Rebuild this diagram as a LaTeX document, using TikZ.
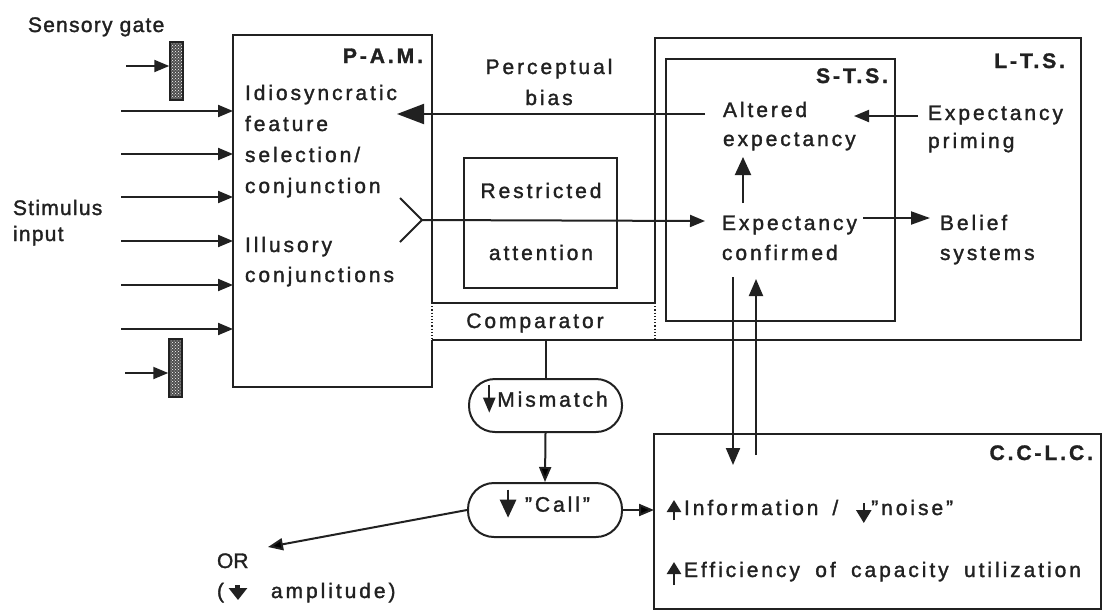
\documentclass[tikz,border=0pt]{standalone}
\usepackage{fontspec}
\setmainfont{Liberation Sans}[LetterSpace=14,FakeBold=1.5]
\newfontfamily\lsfont{Liberation Sans}[LetterSpace=6,FakeBold=1.5]
\newfontfamily\tightfont{Liberation Sans}[FakeBold=1.5]
\usetikzlibrary{arrows.meta,patterns}
\definecolor{ink}{gray}{0.13}
\newcommand\lnsL[2][30pt]{\vtop{\baselineskip=#1\relax\lineskiplimit=-100pt\lineskip=0pt\halign{##\hfil\cr#2\crcr}}}
\newcommand\lnsC[2][30pt]{\vtop{\baselineskip=#1\relax\lineskiplimit=-100pt\lineskip=0pt\halign{\hfil##\hfil\cr#2\crcr}}}
% small vertical arrow symbol: from #1 to #2 (pt above baseline), head width #3, head length #4, stem #5
\newcommand\vArrow[5]{\tikz[baseline=0pt,x=1pt,y=1pt]{\draw[line width=#5pt,draw=ink,rounded corners=0pt,-{Triangle[length=#4pt,width=#3pt]}] (0,#1) -- (0,#2);}}
\begin{document}
\begin{tikzpicture}[x=1pt,y=-1pt,
  box/.style={draw=ink,line width=2pt},
  area/.style={inner sep=0pt,outer sep=0pt},
  rect/.style={draw=ink,line width=2pt,inner sep=0pt,outer sep=0pt},
  dots/.style={draw=ink,line width=2pt,dash pattern=on 1.2pt off 2pt},
  arr/.style={draw=ink,line width=2pt,-{Triangle[length=15pt,width=12pt]}},
  bigarr/.style={draw=ink,line width=2pt,-{Triangle[length=27pt,width=20pt]}},
  txt/.style={inner sep=0pt,outer sep=0pt,text=ink,font=\fontsize{21}{25}\selectfont},
  lab/.style={txt,font=\fontsize{21}{25}\selectfont\bfseries},
  stad/.style={draw=ink,line width=2pt,rounded corners=26pt,inner sep=0pt,text=ink,
     font=\fontsize{21}{25}\selectfont},
  gate/.style={draw=ink,line width=1.5pt,inner sep=0pt,minimum width=13pt,minimum height=58pt,
     preaction={fill=ink!80},pattern=crosshatch dots,pattern color=white}]
\fill[white] (0,0) rectangle (1105,611);
\useasboundingbox (0,0) rectangle (1105,611);

% main areas
\node[area,minimum width=199pt,minimum height=352pt] (pam) at (332.5,211) {};
\node[area,minimum width=426pt,minimum height=302pt] (lts) at (868,189) {};
\node[rect,minimum width=229pt,minimum height=262pt] (sts) at (780.5,190) {};
\node[rect,minimum width=153pt,minimum height=130pt] (ra) at (540.5,223) {};
\node[rect,minimum width=447pt,minimum height=175pt] (cclc) at (877.5,521.5) {};

\coordinate (cmpTL) at (432,303);
\coordinate (cmpBL) at (432,340);
\coordinate (cmpTR) at (655,303);

\draw[box] (cmpTL) -- (pam.north east) -- (pam.north west) -- (pam.south west) -- (pam.south east) -- (cmpBL);
\draw[dots] (cmpTL) -- (cmpBL);
\draw[box] (cmpTL) -- (cmpTR);
\draw[box] (cmpTR) -- (lts.north west) -- (lts.north east) -- (lts.south east) -- (cmpBL);
\draw[dots] (cmpTR) -- (lts.south west);

% gates
\node[gate] (g1) at (176.5,71) {};
\node[gate] (g2) at (175.5,368) {};
\coordinate (g1a) at (126,66);
\coordinate (g2a) at (125,373);
\draw[arr] (g1a) -- (g1a -| g1.west);
\draw[arr] (g2a) -- (g2a -| g2.west);

% stimulus inputs
\foreach \i/\y in {1/111,2/154,3/197,4/241,5/285,6/329}{
  \coordinate (in\i) at (121,\y);
  \draw[arr] (in\i) -- (in\i -| pam.west);
}

% left texts
\node[txt,anchor=base west,font=\fontsize{21}{25}\selectfont\lsfont] (sg) at (28,32) {Sensory gate};
\node[txt,anchor=base west,font=\fontsize{21}{25}\selectfont\lsfont] (si) at (13,215) {\lnsL[26pt]{Stimulus\cr input}};

% PAM texts
\node[lab,anchor=base east] (pamlab) at (423,63) {P-A.M.};
\node[txt,anchor=base west] (idio) at (245,100) {\lnsL[31pt]{Idiosyncratic\cr feature\cr selection/\cr conjunction}};
\node[txt,anchor=base west] (illu) at (245,252) {\lnsL[30pt]{Illusory\cr conjunctions}};

% middle texts
\node[txt,anchor=base] (pb) at (549,74) {\lnsC[31pt]{Perceptual\cr bias}};
\node[txt,anchor=base] (rat) at (541,198) {\lnsC[62pt]{Restricted\cr attention}};
\node[txt,anchor=base] (cmp) at (535,328) {Comparator};

% STS / LTS texts
\node[lab,anchor=base east] (stslab) at (888,83) {S-T.S.};
\node[lab,anchor=base east] (ltslab) at (1065,68) {L-T.S.};
\node[txt,anchor=base west] (alt) at (723,117) {\lnsL[29pt]{Altered\cr expectancy}};
\node[txt,anchor=base west] (prim) at (928,120) {\lnsL[28pt]{Expectancy\cr priming}};
\node[txt,anchor=base west] (ec) at (722,230) {\lnsL[30pt]{Expectancy\cr confirmed}};
\node[txt,anchor=base west] (bel) at (940,230) {\lnsL[30pt]{Belief\cr systems}};

% connectors in upper part
\coordinate (altout) at (705,114);
\coordinate (pbtip) at (397,114);
\draw[bigarr] (altout) -- (pbtip);
\coordinate (chev) at (422,220);
\coordinate (ecin) at (705,221);
\draw[box] ([shift={(-22,-22)}]chev) -- (chev) -- ([shift={(-22,22)}]chev);
\draw[arr] (chev) -- (ecin);
\coordinate (primout) at (918,116);
\coordinate (altin) at (854,116);
\draw[arr] (primout) -- (altin);
\coordinate (ecup) at (743,203);
\coordinate (altdn) at (743,157);
\draw[arr,-{Triangle[length=18pt,width=16pt]}] (ecup) -- (altdn);
\coordinate (ecout) at (863,218);
\coordinate (belin) at (930,218);
\draw[arr,-{Triangle[length=19pt,width=13pt]}] (ecout) -- (belin);
\coordinate (dnS) at (733,277);
\coordinate (dnE) at (733,465);
\coordinate (upS) at (756,455);
\coordinate (upE) at (756,279);
\draw[arr,-{Triangle[length=17pt,width=14pt]}] (dnS) -- (dnE);
\draw[arr,-{Triangle[length=17pt,width=14pt]}] (upS) -- (upE);

% mismatch / call
\node[stad,minimum width=153pt,minimum height=53pt,text height=8pt,text depth=5.6pt] (mm) at (545.5,405.5) {\vArrow{22}{-6}{12}{15}{2.2}\kern2pt Mismatch};
\node[stad,minimum width=154pt,minimum height=54pt,text height=8pt,text depth=4.6pt] (call) at (545,510) {\vArrow{22}{-6}{16}{18}{2.5}\kern9pt "Call"};
\draw[box] (mm.north |- cmpBL) -- (mm.north);
\draw[arr] (mm.south) -- (call.north);
\draw[arr] (call.east) -- (call.east -| cclc.west);
\coordinate (ortip) at (268,547);
\draw[arr] (call.west) -- (ortip);
\node[txt,anchor=base west,font=\fontsize{21}{25}\selectfont\tightfont] (or) at (217,568) {OR};
\node[txt,anchor=base west] (amp) at (217,598) {(\kern5pt\vArrow{13}{-2}{18}{12}{5}\kern24pt amplitude)};

% CCLC texts
\node[lab,anchor=base east] (cclclab) at (1093,460) {C.C-L.C.};
\node[txt,anchor=base west] (info) at (667,515) {\vArrow{-5}{15}{14}{12}{2.5}\kern3pt Information\hspace{14pt}/\hspace{18pt}\vArrow{12}{-8}{15}{13}{2.5}"noise"};
\node[txt,anchor=base west] (eff) at (667,577) {\vArrow{-8}{15}{14}{12}{2.5}\kern3pt\makebox[397pt][s]{Efficiency of capacity utilization}};
\end{tikzpicture}
\end{document}
